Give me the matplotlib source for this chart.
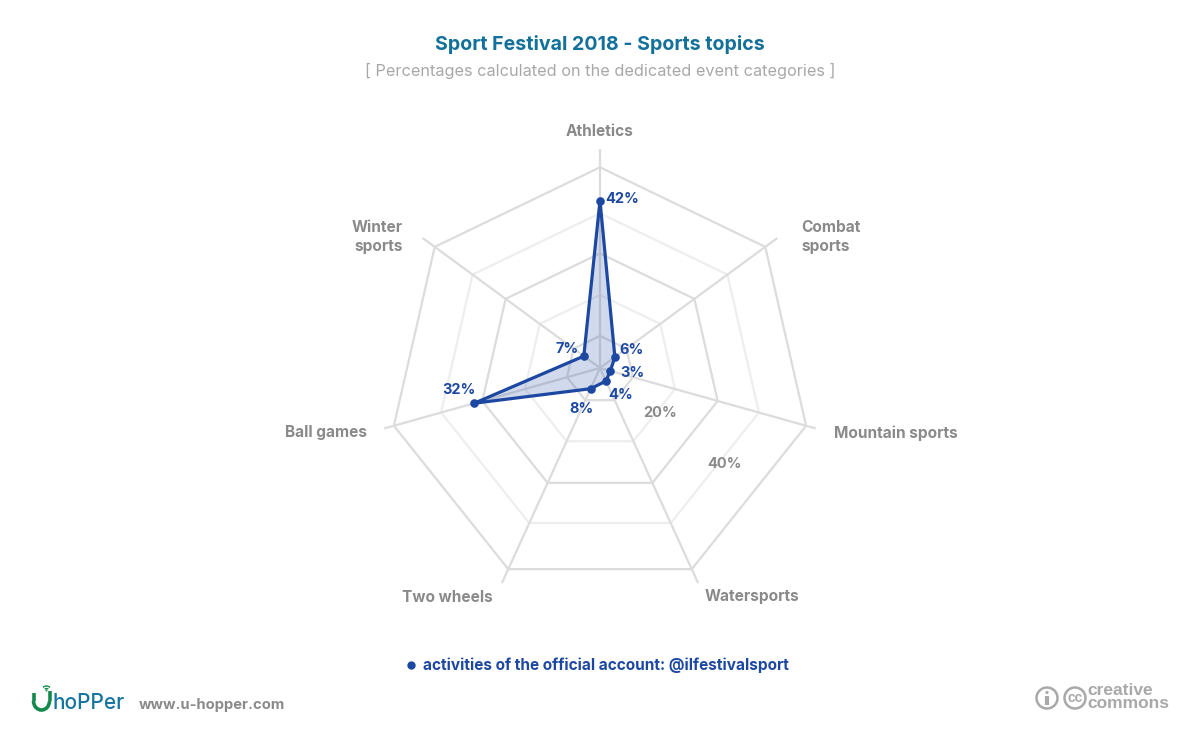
import matplotlib
matplotlib.use("Agg")
import matplotlib.pyplot as plt
import numpy as np
from matplotlib.patches import Arc, Circle

categories = ["Athletics", "Combat\nsports", "Mountain sports", "Watersports",
              "Two wheels", "Ball games", "Winter\nsports"]
values = [42, 6, 3, 4, 8, 32, 7]
value_labels = ["42%", "6%", "3%", "4%", "8%", "32%", "7%"]
ring_levels = [10, 20, 30, 40, 50]
tick_labels = {20: "20%", 40: "40%"}

# radial axis of the source is not quite linear, calibration read off the picture
scale_values = [0, 3, 4, 6, 7, 8, 10, 20, 30, 32, 40, 42, 50]
scale_fracs = [0, .05, .065, .09, .098, .103, .16, .364, .571, .61, .771, .834, 1]

BLUE = "#1d48a2"
TEAL = "#13709a"
GREY = "#8a8a8a"
RING = "#dcdcdc"
RING_SOFT = "#eeeeee"
FONT = "Inter"

HUB = (600.0, 368.0)
RADIUS = 211.4
SHIFT = 10.7  # the rings sit a bit below the hub
SPOKE_TAIL = [17, 14, 9, 14, 14, 9, 14]

angles = np.arange(len(categories)) * 2 * np.pi / len(categories)
spoke_x = RADIUS * np.sin(angles)
spoke_y = -RADIUS * np.cos(angles) + SHIFT


def radar_xy(frac):
    frac = np.asarray(frac, dtype=float)
    return HUB[0] + frac * spoke_x, HUB[1] + frac * spoke_y


def to_frac(v):
    return np.interp(v, scale_values, scale_fracs)


fig = plt.figure(figsize=(12, 7.4), dpi=100)
ax = fig.add_axes([0, 0, 1, 1])
ax.set_xlim(0, 1200)
ax.set_ylim(740, 0)
ax.axis("off")

# grid
for level in ring_levels:
    x, y = radar_xy(np.full(len(categories), to_frac(level)))
    color = RING_SOFT if level in tick_labels else RING
    ax.plot(np.r_[x, x[0]], np.r_[y, y[0]], color=color, lw=1.6, zorder=1)

for i in range(len(categories)):
    length = np.hypot(spoke_x[i], spoke_y[i])
    end = 1 + SPOKE_TAIL[i] / length
    ax.plot([HUB[0], HUB[0] + end * spoke_x[i]], [HUB[1], HUB[1] + end * spoke_y[i]],
            color=RING, lw=1.6, zorder=1.5)

# series
px, py = radar_xy(to_frac(values))
ax.fill(px, py, color=BLUE, alpha=0.2, lw=0, zorder=2)
ax.plot(np.r_[px, px[0]], np.r_[py, py[0]], color=BLUE, lw=2.3, zorder=3, solid_joinstyle="miter")
ax.plot(px, py, "o", color=BLUE, ms=6.2, mew=0, zorder=4)

label_offsets = [(22, -1.5), (17, -7), (22, 2), (15, 14), (-9, 20), (-15, -13), (-17, -7)]
for x, y, text, off in zip(px, py, value_labels, label_offsets):
    ax.text(x + off[0], y + off[1], text, color=BLUE, fontsize=10.5, fontweight="bold",
            family=FONT, ha="center", va="center", zorder=5)

ax.text(660, 413, tick_labels[20], color=GREY, fontsize=10.5, fontweight="bold", family=FONT, ha="center", va="center")
ax.text(724, 464, tick_labels[40], color=GREY, fontsize=10.5, fontweight="bold", family=FONT, ha="center", va="center")

# category labels
cat_pos = [(600, 132, "center"), (801, 237, "left"), (834, 433, "left"), (752, 597, "center"),
           (447.5, 597, "center"), (326, 433, "center"), (403, 237, "right")]
for name, (x, y, ha) in zip(categories, cat_pos):
    ax.text(x, y, name, color=GREY, fontsize=11.1, fontweight="bold", family=FONT, ha=ha, va="center",
            linespacing=1.4, multialignment=ha)

# header
ax.text(600, 44.5, "Sport Festival 2018 - Sports topics", color=TEAL, fontsize=14.1, fontweight="bold",
        family=FONT, ha="center", va="center")
ax.text(600, 70.5, "[ Percentages calculated on the dedicated event categories ]", color="#a8a8a8",
        fontsize=11.7, family=FONT, ha="center", va="center")

# legend
ax.plot([411], [665], "o", color=BLUE, ms=6, mew=0)
ax.text(423, 665.5, "activities of the official account: @ilfestivalsport", color=BLUE, fontsize=11.05,
        fontweight="bold", family=FONT, ha="left", va="center")

# footer left: logo
GREEN = "#128a4e"
ax.plot([33.5, 33.5], [693, 701], color=GREEN, lw=2.6, solid_capstyle="butt")
ax.plot([49.5, 49.5], [691, 701], color=GREEN, lw=2.6, solid_capstyle="butt")
ax.add_patch(Arc((41.5, 701), 16, 18, theta1=0, theta2=180, color=GREEN, lw=2.6))
for d in (5, 10):
    ax.add_patch(Arc((46.5, 691), d, d, theta1=225, theta2=315, color=GREEN, lw=1))
ax.add_patch(Circle((46.5, 690.5), 1, fc=GREEN, ec="none"))
ax.text(53, 703, "hoPPer", color="#16759f", fontsize=15, fontweight=500, family=FONT, ha="left", va="center")
ax.text(139, 705.5, "www.u-hopper.com", color=GREY, fontsize=10.6, fontweight="bold", family=FONT,
        ha="left", va="center")

# footer right: cc
CC = "#a9a9a9"
ax.add_patch(Circle((1047, 698), 10.5, fill=False, ec=CC, lw=1.8))
ax.add_patch(Circle((1047, 692.5), 1.6, fc=CC, ec="none"))
ax.plot([1047, 1047], [696, 705], color=CC, lw=3, solid_capstyle="butt")
ax.add_patch(Circle((1075, 698), 10.5, fill=False, ec=CC, lw=1.8))
ax.text(1075, 697.5, "cc", color=CC, fontsize=10, fontweight="bold", family="Liberation Sans",
        ha="center", va="center")
ax.text(1087, 690.5, "creative", color=CC, fontsize=12.5, fontweight="bold", family="Liberation Sans", ha="left", va="center")
ax.text(1087, 704, "commons", color=CC, fontsize=12.5, fontweight="bold", family="Liberation Sans", ha="left", va="center")

fig.savefig("out.png", dpi=100)
